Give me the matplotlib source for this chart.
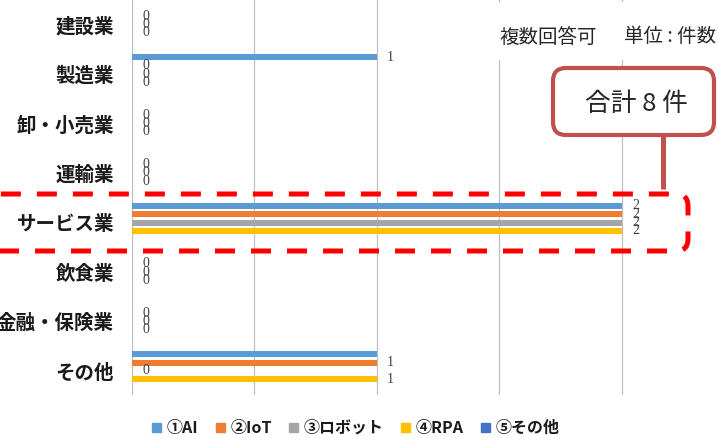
import matplotlib
matplotlib.use("Agg")
import matplotlib.pyplot as plt
from matplotlib.patches import FancyBboxPatch, Rectangle
from matplotlib.lines import Line2D
import numpy as np

plt.rcParams['font.family'] = ['Noto Sans CJK JP', 'DejaVu Sans']

categories = ['建設業', '製造業', '卸・小売業', '運輸業', 'サービス業', '飲食業', '金融・保険業', 'その他']
series_names = ['①AI', '②IoT', '③ロボット', '④RPA', '⑤その他']
ai = [0, 1, 0, 0, 2, 0, 0, 1]
iot = [0, 0, 0, 0, 2, 0, 0, 1]
robot = [0, 0, 0, 0, 2, 0, 0, 0]
rpa = [0, 0, 0, 0, 2, 0, 0, 1]
other = [0, 0, 0, 0, 0, 0, 0, 0]
series_values = [ai, iot, robot, rpa, other]
colors = ['#5B9BD5', '#ED7D31', '#A5A5A5', '#FFC000', '#4472C4']
# data labels that are not visible in the reference: (category index, series index)
hidden_labels = {(0, 0), (2, 0), (3, 0), (5, 0), (6, 0), (7, 0)}
labelled_series = [0, 1, 2, 3]

note_left = '複数回答可'
note_right = '単位 : 件数'
callout_text = '合計 8 件'

W, H = 718, 442
fig = plt.figure(figsize=(W / 100, H / 100), dpi=100)

px_per_unit = (621.5 - 132) / 2
ax = fig.add_axes([132 / W, (H - 395) / H, (W - 132) / W, 395 / H])
ax.set_xlim(0, (W - 132) / px_per_unit)
y_top = -24.5 / 49.5
y_bot = (395 - 24.5) / 49.5
ax.set_ylim(y_bot, y_top)

step = 8.4 / 49.5
bh = 6.0 / 49.5
ypos = np.arange(len(categories))
for s, (vals, col) in enumerate(zip(series_values, colors)):
    offs = (s - 2) * step
    ax.barh(ypos + offs, vals, height=bh, color=col, zorder=3)
    if s in labelled_series:
        for i, v in enumerate(vals):
            if (i, s) in hidden_labels:
                continue
            ax.annotate(str(v), (v, ypos[i] + offs), xytext=(7.5, 0), textcoords='offset points',
                        ha='left', va='center', fontsize=10, color='#404040',
                        family=['Liberation Serif', 'DejaVu Serif'], zorder=4)

ax.set_xticks([0, 0.5, 1, 1.5, 2])
ax.set_xticklabels([])
ax.grid(axis='x', color='#BFBFBF', lw=0.9, zorder=0)
ax.set_axisbelow(True)
ax.tick_params(axis='x', length=0)
ax.set_yticks(ypos)
ax.set_yticklabels(categories, fontsize=14, fontweight='bold', color='#1a1a1a')
ax.tick_params(axis='y', length=0, pad=13)
for sp in ax.spines.values():
    sp.set_visible(False)

handles = [Rectangle((0, 0), 1, 1, color=c) for c in colors]
leg = fig.legend(handles, series_names, loc='center', bbox_to_anchor=(356 / W, (H - 428) / H),
                 ncol=5, frameon=False, handlelength=0.55, handleheight=0.55,
                 handletextpad=0.35, columnspacing=1.1,
                 prop={'size': 11.5, 'weight': 'bold', 'family': ['Noto Sans CJK JP', 'DejaVu Sans']})
for t in leg.get_texts():
    t.set_color('#1a1a1a')

tr = fig.dpi_scale_trans


def P(x, y):
    return (x / 100, (H - y) / 100)


fig.add_artist(Rectangle(P(488, 60), 240 / 100, 58 / 100, transform=tr, fc='white', ec='none', zorder=5))
fig.text(499 / W, (H - 37) / H, note_left, fontsize=14, color='#262626', va='center', ha='left', zorder=6)
fig.text(624 / W, (H - 37) / H, note_right, fontsize=14, color='#262626', va='center', ha='left', zorder=6)

dash = FancyBboxPatch(P(-40, 251), (688 + 40) / 100, (251 - 194) / 100,
                      boxstyle='round,pad=0,rounding_size=0.12', transform=tr,
                      fc='none', ec='#FF0000', lw=3.6, linestyle=(0, (4, 3.2)), zorder=7)
fig.add_artist(dash)

fig.add_artist(Line2D([663 / 100, 663 / 100], [(H - 135) / 100, (H - 189) / 100], transform=tr,
                      color='#C0504D', lw=3.6, zorder=8, solid_capstyle='butt'))
box = FancyBboxPatch(P(553, 135), (714 - 553) / 100, (135 - 68) / 100,
                     boxstyle='round,pad=0,rounding_size=0.13', transform=tr,
                     fc='white', ec='#C0504D', lw=3.0, zorder=9)
fig.add_artist(box)
fig.text(636 / W, (H - 104) / H, callout_text, fontsize=18.5, color='#262626', ha='center', va='center', zorder=10)

fig.savefig('out.png', dpi=100)
